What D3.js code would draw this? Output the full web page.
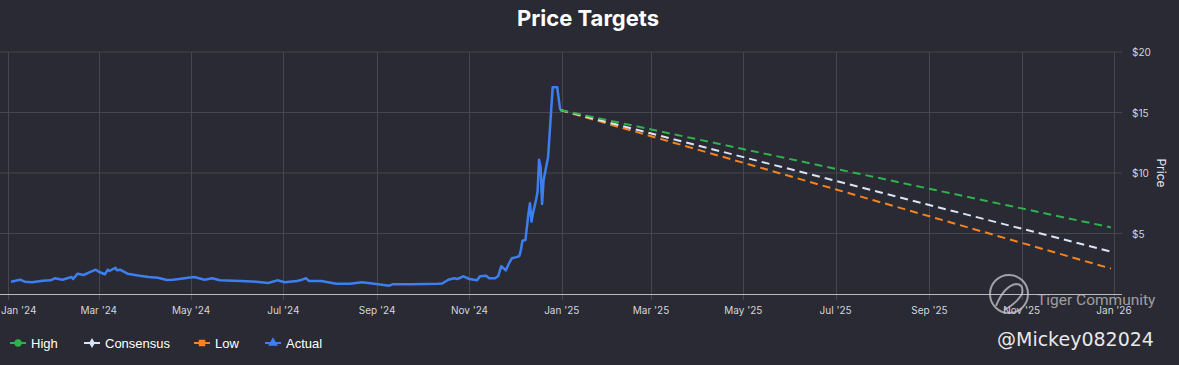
<!DOCTYPE html>
<html>
<head>
<meta charset="utf-8">
<script src="https://cdn.jsdelivr.net/npm/d3@7"></script>
<style>
  html, body { margin: 0; padding: 0; background: #292a33; }
  svg { display: block; }
</style>
</head>
<body>
<svg id="chart" width="1179" height="365"></svg>
<script>
// ---- data ----
const actualDates = ["2024-01-03","2024-01-09","2024-01-12","2024-01-17","2024-01-24","2024-01-29","2024-02-01","2024-02-06","2024-02-12","2024-02-13","2024-02-16","2024-02-20","2024-02-23","2024-02-28","2024-03-01","2024-03-05","2024-03-07","2024-03-08","2024-03-12","2024-03-13","2024-03-15","2024-03-20","2024-03-28","2024-04-03","2024-04-09","2024-04-15","2024-04-19","2024-04-23","2024-04-29","2024-05-03","2024-05-10","2024-05-15","2024-05-20","2024-06-03","2024-06-13","2024-06-21","2024-06-27","2024-07-02","2024-07-10","2024-07-12","2024-07-16","2024-07-18","2024-07-26","2024-08-05","2024-08-14","2024-08-22","2024-08-30","2024-09-09","2024-09-11","2024-09-24","2024-10-11","2024-10-14","2024-10-18","2024-10-22","2024-10-24","2024-10-28","2024-11-01","2024-11-06","2024-11-08","2024-11-12","2024-11-14","2024-11-18","2024-11-20","2024-11-22","2024-11-25","2024-11-27","2024-11-29","2024-12-02","2024-12-04","2024-12-05","2024-12-06","2024-12-08","2024-12-09","2024-12-10","2024-12-11","2024-12-12","2024-12-13","2024-12-15","2024-12-16","2024-12-17","2024-12-18","2024-12-19","2024-12-20","2024-12-23","2024-12-26","2024-12-29","2024-12-31"];
const actualValues = [1.02,1.18,1.02,0.97,1.10,1.13,1.30,1.18,1.40,1.24,1.68,1.57,1.74,2.01,1.84,1.63,2.01,1.90,2.17,1.96,2.01,1.68,1.51,1.40,1.35,1.16,1.18,1.24,1.35,1.40,1.18,1.30,1.13,1.07,1.02,0.91,1.13,0.97,1.07,1.13,1.30,1.07,1.07,0.85,0.85,0.97,0.85,0.69,0.80,0.80,0.85,0.87,1.18,1.30,1.24,1.46,1.24,1.13,1.46,1.51,1.30,1.30,1.48,2.30,1.95,2.50,2.95,3.05,3.14,3.64,4.40,4.46,5.56,6.67,7.50,5.98,6.67,7.77,8.45,11.10,10.50,7.44,9.42,11.35,17.08,17.08,15.20];

const forecastDates = ["2024-12-31","2025-12-30"];
const highValues = [15.2, 5.5];
const consensusValues = [15.2, 3.5];
const lowValues = [15.2, 2.1];

const xDomain = ["2024-01-01","2026-01-01"];
const yTicks = [5, 10, 15, 20];
const yTickLabels = ["$5","$10","$15","$20"];
const legendNames = ["High","Consensus","Low","Actual"];

// ---- styling ----
const colors = { High: "#2fb24c", Consensus: "#dbe4f7", Low: "#f5841f", Actual: "#3d7ff0" };
const bg = "#292a33";
const gridColor = "#45464f";
const textColor = "#d4d5da";

const parse = d3.timeParse("%Y-%m-%d");
const svg = d3.select("#chart");
svg.append("rect").attr("width",1179).attr("height",365).attr("fill",bg);

const x = d3.scaleTime().domain(xDomain.map(parse)).range([8, 1114]);
const y = d3.scaleLinear().domain([0, 20]).range([294, 52]);
const plotLeft = 0, plotRight = 1122;

// title
svg.append("text").attr("x", 588).attr("y", 26).attr("text-anchor","middle")
  .attr("font-family","Inter, Roboto, sans-serif").attr("font-weight","700")
  .attr("font-size", 22).attr("fill","#ffffff").text("Price Targets");

// horizontal grid
svg.append("g").selectAll("line").data(yTicks).join("line")
  .attr("x1", plotLeft).attr("x2", plotRight)
  .attr("y1", d => y(d)).attr("y2", d => y(d))
  .attr("stroke", gridColor).attr("stroke-width", 1);

// vertical grid (x ticks)
const xTicks = x.ticks(d3.timeMonth.every(2));
svg.append("g").selectAll("line").data(xTicks).join("line")
  .attr("x1", d => Math.round(x(d)) + 0.5).attr("x2", d => Math.round(x(d)) + 0.5)
  .attr("y1", 52).attr("y2", 300)
  .attr("stroke", gridColor).attr("stroke-width", 1);

// baseline
svg.append("line").attr("x1", plotLeft).attr("x2", plotRight)
  .attr("y1", y(0)+0.5).attr("y2", y(0)+0.5)
  .attr("stroke", "#b9bac0").attr("stroke-width", 1);

// x tick labels
const fmt = d3.timeFormat("%b '%y");
svg.append("g").selectAll("text").data(xTicks).join("text")
  .attr("x", d => x(d)).attr("y", 314)
  .attr("text-anchor","middle")
  .attr("font-family","Inter, Roboto, sans-serif").attr("font-size", 10)
  .attr("fill", textColor).text(d => fmt(d))
  .each(function() {
    const bb = this.getBBox();
    if (bb.x < 1) d3.select(this).attr("x", +d3.select(this).attr("x") + (1 - bb.x));
  });

// y tick labels
svg.append("g").selectAll("text").data(yTicks).join("text")
  .attr("x", 1132).attr("y", d => y(d) + 4)
  .attr("font-family","Inter, Roboto, sans-serif").attr("font-size", 10)
  .attr("fill", textColor).text((d,i) => yTickLabels[i]);

// axis title
svg.append("text").attr("transform","translate(1157,173) rotate(90)")
  .attr("text-anchor","middle")
  .attr("font-family","Inter, Roboto, sans-serif").attr("font-size", 12)
  .attr("fill", "#e4e5ea").text("Price");

// lines
const line = d3.line().x(d => x(d[0])).y(d => y(d[1]));
const actual = actualDates.map((d,i) => [parse(d), actualValues[i]]);
svg.append("path").datum(actual).attr("d", line)
  .attr("fill","none").attr("stroke", colors.Actual).attr("stroke-width", 2.5)
  .attr("stroke-linejoin","round");

const fSeries = [["High", highValues], ["Consensus", consensusValues], ["Low", lowValues]];
fSeries.slice().reverse().forEach(([name, vals]) => {
  const pts = forecastDates.map((d,i) => [parse(d), vals[i]]);
  svg.append("path").datum(pts).attr("d", line)
    .attr("fill","none").attr("stroke", colors[name]).attr("stroke-width", 2)
    .attr("stroke-dasharray","8,5");
});

// legend
const legendX = [18, 92, 202, 273];
const lg = svg.append("g");
legendNames.forEach((name, i) => {
  const cx = legendX[i], cy = 343;
  const g = lg.append("g");
  g.append("line").attr("x1", cx-8).attr("x2", cx+8).attr("y1", cy).attr("y2", cy)
    .attr("stroke", colors[name]).attr("stroke-width", 2);
  let sym;
  if (name === "High") sym = d3.symbolCircle;
  else if (name === "Consensus") sym = d3.symbolDiamond;
  else if (name === "Low") sym = d3.symbolSquare;
  else sym = d3.symbolTriangle;
  g.append("path").attr("d", d3.symbol().type(sym).size(name==="Consensus"?30:42)())
    .attr("transform", `translate(${cx},${cy})`).attr("fill", colors[name]);
  g.append("text").attr("x", cx + 13).attr("y", cy + 4.5)
    .attr("font-family","Liberation Sans, Arial, sans-serif").attr("font-size", 13)
    .attr("fill","#ffffff").text(name);
});

// watermark
const wm = svg.append("g").attr("opacity", 0.75);
wm.append("circle").attr("cx", 1009).attr("cy", 294).attr("r", 19)
  .attr("fill","none").attr("stroke","#c8c8cc").attr("stroke-width", 2);
wm.append("path").attr("d","M996,306 Q1004,286 1016,284 Q1024,284 1022,294 Q1016,304 1004,310")
  .attr("fill","none").attr("stroke","#c8c8cc").attr("stroke-width", 2);
wm.append("text").attr("x", 1037).attr("y", 305)
  .attr("font-family","Roboto, sans-serif").attr("font-size", 15.5)
  .attr("fill","#c4c4c8").text("Tiger Community");
svg.append("text").attr("x", 997).attr("y", 346)
  .attr("font-family","DejaVu Sans, sans-serif").attr("font-size", 19)
  .attr("fill","#e8e8ea").text("@Mickey082024");
</script>
</body>
</html>
